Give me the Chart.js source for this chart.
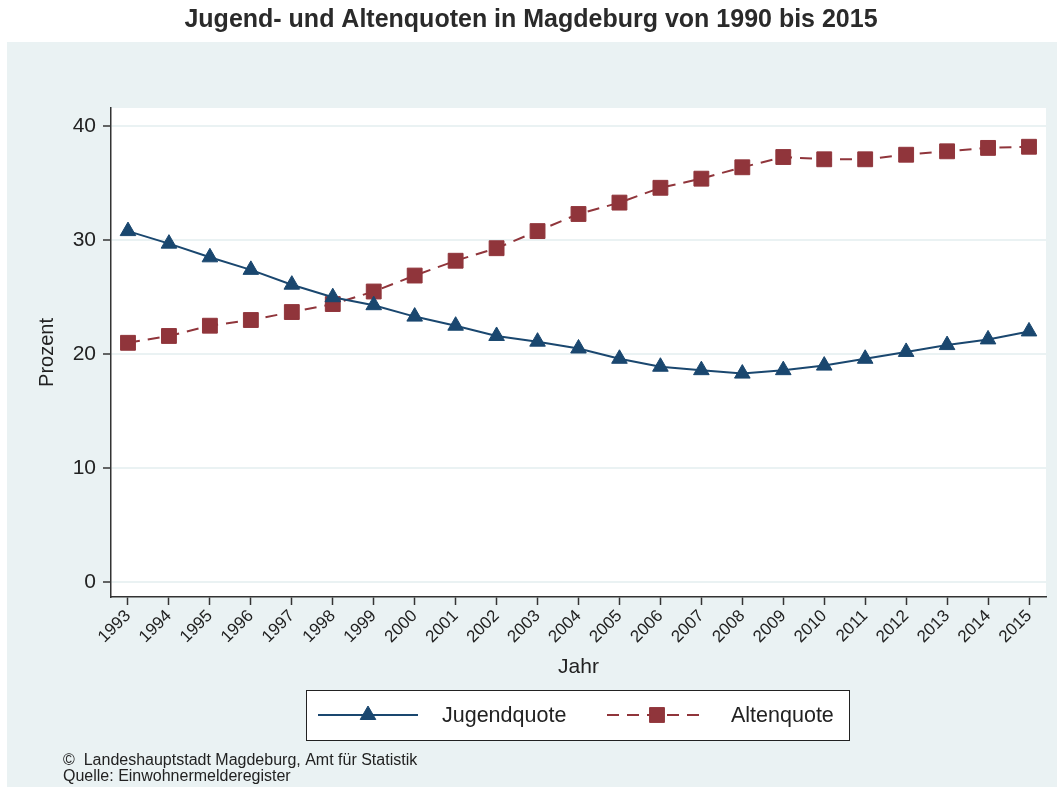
<!DOCTYPE html>
<html>
<head>
<meta charset="utf-8">
<script src="https://cdn.jsdelivr.net/npm/chart.js@4/dist/chart.umd.min.js"></script>
<style>
  html, body { margin: 0; padding: 0; background: #fff; }
  #wrap { width: 1059px; height: 787px; position: relative; }
</style>
</head>
<body>
<div id="wrap"><canvas id="quoten" width="1059" height="787"></canvas></div>
<script>
// Werte
var years = [1993, 1994, 1995, 1996, 1997, 1998, 1999, 2000, 2001, 2002, 2003,
             2004, 2005, 2006, 2007, 2008, 2009, 2010, 2011, 2012, 2013, 2014, 2015];
var jugendquote = [30.8, 29.7, 28.5, 27.4, 26.1, 25.0, 24.3, 23.3, 22.5, 21.6, 21.1,
                   20.5, 19.6, 18.9, 18.6, 18.3, 18.6, 19.0, 19.6, 20.2, 20.8, 21.3, 22.0];
var altenquote = [21.0, 21.6, 22.5, 23.0, 23.7, 24.4, 25.5, 26.9, 28.2, 29.3, 30.8,
                  32.3, 33.3, 34.6, 35.4, 36.4, 37.3, 37.1, 37.1, 37.5, 37.8, 38.1, 38.2];
var yTicks = [0, 10, 20, 30, 40];

var FONT = "'Liberation Sans', Arial, sans-serif";
var navy = '#1a476f';
var maroon = '#90353b';
var panelBg = '#eaf2f3';
var textCol = '#222';

var toPoints = function(values){
    return values.map((v, i) => ({ x: years[i], y: v }));
};

// Hintergrund, Titel, Legende, Quelle
var frame = {
    id: 'frame',
    beforeDraw: function(chart){
        var ctx = chart.ctx;
        var a = chart.chartArea;
        ctx.save();
        ctx.fillStyle = '#fff';
        ctx.fillRect(0, 0, chart.width, chart.height);
        ctx.fillStyle = panelBg;
        ctx.fillRect(7, 42, 1050, 745);
        ctx.fillStyle = '#fff';
        ctx.fillRect(a.left, a.top, a.right - a.left, a.bottom - a.top);
        ctx.restore();
    },
    afterDraw: function(chart){
        var ctx = chart.ctx;
        ctx.save();
        ctx.fillStyle = '#2a2a2a';
        ctx.textBaseline = 'middle';
        ctx.textAlign = 'center';
        ctx.font = 'bold 25px ' + FONT;
        ctx.fillText('Jugend- und Altenquoten in Magdeburg von 1990 bis 2015', 531, 20);

        // Legende
        ctx.fillStyle = '#fff';
        ctx.fillRect(306, 690, 543, 50);
        ctx.strokeStyle = '#222';
        ctx.lineWidth = 1;
        ctx.strokeRect(306.5, 690.5, 543, 50);
        var slots = [318, 607];
        chart.data.datasets.forEach((ds, i) => {
            var x0 = slots[i];
            var y = 715;
            ctx.save();
            ctx.strokeStyle = ds.borderColor;
            ctx.lineWidth = 2;
            ctx.setLineDash(ds.borderDash || []);
            ctx.beginPath();
            ctx.moveTo(x0, y);
            ctx.lineTo(x0 + 100, y);
            ctx.stroke();
            ctx.restore();
            ctx.fillStyle = ds.pointBackgroundColor;
            ctx.strokeStyle = ds.pointBorderColor;
            Chart.helpers.drawPoint(ctx, {
                pointStyle: ds.pointStyle,
                radius: ds.pointRadius,
                rotation: 0,
                borderWidth: 1
            }, x0 + 50, y);
            ctx.fillStyle = textCol;
            ctx.textAlign = 'left';
            ctx.font = '21.5px ' + FONT;
            ctx.fillText(ds.label, x0 + 124, y + 1);
        });

        ctx.font = '16px ' + FONT;
        ctx.textAlign = 'left';
        ctx.fillStyle = textCol;
        ctx.fillText('\u00A9  Landeshauptstadt Magdeburg, Amt f\u00FCr Statistik', 63, 761);
        ctx.fillText('Quelle: Einwohnermelderegister', 63, 777);
        ctx.restore();
    }
};

var ctx = document.getElementById('quoten').getContext('2d');
var quotenChart = new Chart(ctx, {
    type: 'line',
    data: {
        datasets: [
            {
                label: 'Jugendquote',
                data: toPoints(jugendquote),
                borderColor: navy,
                borderWidth: 2,
                pointStyle: 'triangle',
                pointRadius: 9,
                pointBackgroundColor: navy,
                pointBorderColor: navy,
                pointBorderWidth: 1,
                tension: 0
            },
            {
                label: 'Altenquote',
                data: toPoints(altenquote),
                borderColor: maroon,
                borderWidth: 2,
                borderDash: [12, 8],
                pointStyle: 'rect',
                pointRadius: 10.5,
                pointBackgroundColor: maroon,
                pointBorderColor: maroon,
                pointBorderWidth: 1,
                tension: 0
            }
        ]
    },
    options: {
        responsive: false,
        animation: false,
        devicePixelRatio: 1,
        layout: { padding: { top: 108, right: 13, bottom: 105, left: 35 } },
        plugins: {
            legend: { display: false },
            tooltip: { enabled: false },
            title: { display: false }
        },
        scales: {
            x: {
                type: 'linear',
                min: 1992.585,
                max: 2015.415,
                afterBuildTicks: function(scale){
                    scale.ticks = years.map(v => ({ value: v }));
                },
                afterFit: function(scale){ scale.height = 85; },
                grid: {
                    drawOnChartArea: false,
                    drawTicks: true,
                    tickLength: 8,
                    tickColor: '#333',
                    tickWidth: 1.5
                },
                border: { display: true, color: '#333', width: 1.5 },
                ticks: {
                    autoSkip: false,
                    minRotation: 45,
                    maxRotation: 45,
                    padding: 1,
                    color: textCol,
                    font: { family: FONT, size: 17 },
                    callback: function(v){ return String(v); }
                },
                title: {
                    display: true,
                    text: 'Jahr',
                    color: textCol,
                    font: { family: FONT, size: 21 },
                    padding: { top: 0, bottom: 2 }
                }
            },
            y: {
                type: 'linear',
                min: -1.3,
                max: 41.6,
                afterBuildTicks: function(scale){
                    scale.ticks = yTicks.map(v => ({ value: v }));
                },
                afterFit: function(scale){ scale.width = 76; },
                grid: {
                    color: panelBg,
                    lineWidth: 2,
                    drawTicks: true,
                    tickLength: 8,
                    tickColor: '#333',
                    tickWidth: 1.5
                },
                border: { display: true, color: '#333', width: 1.5 },
                ticks: {
                    padding: 7,
                    color: textCol,
                    font: { family: FONT, size: 21 }
                },
                title: {
                    display: true,
                    text: 'Prozent',
                    color: textCol,
                    font: { family: FONT, size: 20 },
                    padding: { top: 0, bottom: 0 }
                }
            }
        }
    },
    plugins: [frame]
});
</script>
</body>
</html>
